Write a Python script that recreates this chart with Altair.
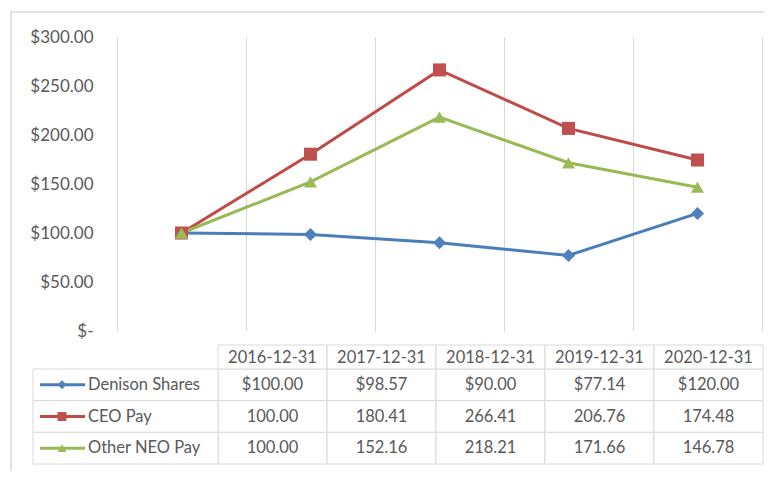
import altair as alt
import pandas as pd

dates = ["2016-12-31", "2017-12-31", "2018-12-31", "2019-12-31", "2020-12-31"]
series = ["Denison Shares", "CEO Pay", "Other NEO Pay"]
denison = [100.00, 98.57, 90.00, 77.14, 120.00]
ceo = [100.00, 180.41, 266.41, 206.76, 174.48]
neo = [100.00, 152.16, 218.21, 171.66, 146.78]
y_ticks = [0, 50, 100, 150, 200, 250, 300]

line_colors = ["#4A7EBB", "#BE4B48", "#98B954"]
marker_colors = ["#4F81BD", "#C0504D", "#9BBB59"]
shapes = ["diamond", "square", "triangle-up"]

TEXT = "#595959"
GRID = "#d9d9d9"
FONT = "Lato"

rows = []
for s, vals in zip(series, [denison, ceo, neo]):
    for d, v in zip(dates, vals):
        lab = f"${v:.2f}" if s == "Denison Shares" else f"{v:.2f}"
        rows.append({"series": s, "date": d, "value": v, "label": lab})
df = pd.DataFrame(rows)
df_dates = pd.DataFrame({"date": dates})
df_series = pd.DataFrame({"series": series})
one = pd.DataFrame({"k": [0]})

color_enc = alt.Color("series:N", scale=alt.Scale(domain=series, range=line_colors), legend=None)
fill_enc = alt.Fill("series:N", scale=alt.Scale(domain=series, range=marker_colors), legend=None)
shape_enc = alt.Shape("series:N", scale=alt.Scale(domain=series, range=shapes), legend=None)

x_line = alt.X("date:O", scale=alt.Scale(domain=dates, paddingInner=0, paddingOuter=0),
               axis=alt.Axis(labels=False, ticks=False, domain=False, grid=True,
                             tickBand="extent", gridColor=GRID, gridWidth=1, title=None))
y_line = alt.Y("value:Q", scale=alt.Scale(domain=[0, 300], nice=False),
               axis=alt.Axis(values=y_ticks, grid=False, ticks=False, tickSize=0, domain=False,
                             labelPadding=24, labelFontSize=17, labelColor=TEXT, labelFont=FONT,
                             title=None,
                             labelExpr="datum.value == 0 ? '$-\u2002' : '$' + format(datum.value, '.2f')"))

lines = alt.Chart(df).mark_line(strokeWidth=3).encode(x=x_line, y=y_line, color=color_enc, detail="series:N")
points = alt.Chart(df).mark_point(filled=True, opacity=1, size=170, strokeWidth=1).encode(
    x=x_line, y=y_line, fill=fill_enc, shape=shape_enc, color=color_enc)
frame_top = alt.Chart(one).mark_rule(color=GRID, strokeWidth=1.5).encode(
    x=alt.value(-107), x2=alt.value(660), y=alt.value(-25))
frame_left = alt.Chart(one).mark_rule(color=GRID, strokeWidth=1.5).encode(
    x=alt.value(-106), y=alt.value(-25), y2=alt.value(450))

chart_group = alt.layer(lines, points, frame_top, frame_left)

x_tab = alt.X("date:O", scale=alt.Scale(domain=dates, range=[101, 646], paddingInner=0, paddingOuter=0), axis=None)
y_tab = alt.Y("series:N", scale=alt.Scale(domain=series, range=[332, 427], paddingInner=0, paddingOuter=0), axis=None)

cells = alt.Chart(df).mark_rect(fill="white", stroke=GRID, strokeWidth=1).encode(x=x_tab, y=y_tab)
head_cells = alt.Chart(df_dates).mark_rect(fill="white", stroke=GRID, strokeWidth=1).encode(
    x=x_tab, y=alt.value(308), y2=alt.value(332))
label_cells = alt.Chart(df_series).mark_rect(fill="white", stroke=GRID, strokeWidth=1).encode(
    x=alt.value(-84), x2=alt.value(101), y=y_tab)
head_text = alt.Chart(df_dates).mark_text(fontSize=16.5, color=TEXT, font=FONT, baseline="middle").encode(
    x=x_tab, y=alt.value(320.5), text="date:N")
cell_text = alt.Chart(df).mark_text(fontSize=16.5, color=TEXT, font=FONT, baseline="middle").encode(
    x=x_tab, y=y_tab, text="label:N")
leg_line = alt.Chart(df_series).mark_rule(strokeWidth=3).encode(
    x=alt.value(-77), x2=alt.value(-32), y=y_tab, color=color_enc)
leg_pt = alt.Chart(df_series).mark_point(filled=True, opacity=1, size=80).encode(
    x=alt.value(-55), y=y_tab, shape=shape_enc, fill=fill_enc, color=color_enc)
leg_text = alt.Chart(df_series).mark_text(fontSize=16.5, color=TEXT, font=FONT, align="left", baseline="middle").encode(
    x=alt.value(-29), y=y_tab, text="series:N")

table_group = alt.layer(cells, head_cells, label_cells, head_text, cell_text, leg_line, leg_pt, leg_text)

chart = alt.layer(chart_group, table_group).resolve_scale(x="independent", y="independent").properties(
    width=645, height=294,
    padding={"left": 109, "top": 29, "right": 2, "bottom": 140},
    autosize=alt.AutoSizeParams(type="none"),
    background="white",
).configure_view(stroke=None)

chart.save("out.html", embed_options={"renderer": "svg", "actions": False})
